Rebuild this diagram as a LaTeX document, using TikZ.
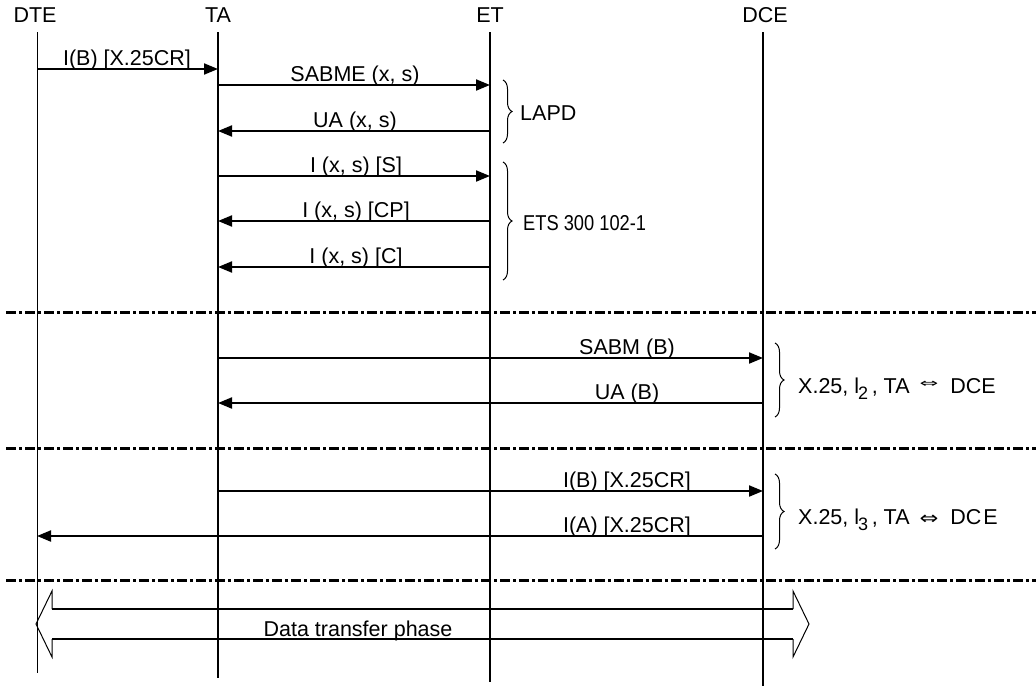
\documentclass[tikz,border=0pt]{standalone}
\usepackage{fontspec}
\setmainfont{Liberation Sans}
\newfontfamily\symfont{DejaVu Sans}
\usetikzlibrary{arrows.meta,decorations.pathreplacing}
\begin{document}
\begin{tikzpicture}[x=1pt,y=-1pt,
  every node/.style={font=\fontsize{21.5}{25}\selectfont, inner sep=0pt},
  life/.style={line width=2pt},
  thinlife/.style={line width=1pt},
  msg/.style={line width=2pt,-{Triangle[length=14pt,width=11pt]}},
  sep/.style={line width=3pt,dash pattern=on 10pt off 3pt on 3pt off 3pt},
  brc/.style={decorate,decoration={brace,amplitude=9pt},line width=1pt},
  lbl/.style={anchor=base},
  dbl/.style={line width=1pt},
  dblbody/.style={line width=2pt},
]
\useasboundingbox (0,0) rectangle (1036,686);

% headers
\node[anchor=base] (hDTE) at (35,22) {DTE};
\node[anchor=base] (hTA) at (218,22) {TA};
\node[anchor=base] (hET) at (490,22) {ET};
\node[anchor=base] (hDCE) at (765,22) {DCE};

% lifelines
\coordinate (DTEt) at (37,32); \coordinate (DTEb) at (37,673);
\coordinate (TAt) at (218,32); \coordinate (TAb) at (218,678);
\coordinate (ETt) at (490,32); \coordinate (ETb) at (490,682);
\coordinate (DCEt) at (763,32); \coordinate (DCEb) at (763,686);
\draw[thinlife] (DTEt) -- (DTEb);
\draw[life] (TAt) -- (TAb);
\draw[life] (ETt) -- (ETb);
\draw[life] (DCEt) -- (DCEb);

% messages
\coordinate (m1a) at (37,69);  \coordinate (m1b) at (218,69);
\coordinate (m2a) at (218,85); \coordinate (m2b) at (490,85);
\coordinate (m3a) at (490,131); \coordinate (m3b) at (218,131);
\coordinate (m4a) at (218,176); \coordinate (m4b) at (490,176);
\coordinate (m5a) at (490,221); \coordinate (m5b) at (218,221);
\coordinate (m6a) at (490,267); \coordinate (m6b) at (218,267);
\coordinate (m7a) at (218,358); \coordinate (m7b) at (763,358);
\coordinate (m8a) at (763,403); \coordinate (m8b) at (218,403);
\coordinate (m9a) at (218,491); \coordinate (m9b) at (763,491);
\coordinate (m10a) at (763,536); \coordinate (m10b) at (37,536);

\draw[msg] (m1a) -- (m1b);
\draw[msg] (m2a) -- (m2b);
\draw[msg] (m3a) -- (m3b);
\draw[msg] (m4a) -- (m4b);
\draw[msg] (m5a) -- (m5b);
\draw[msg] (m6a) -- (m6b);
\draw[msg] (m7a) -- (m7b);
\draw[msg] (m8a) -- (m8b);
\draw[msg] (m9a) -- (m9b);
\draw[msg] (m10a) -- (m10b);

\node[lbl] (l1) at (127,65) {I(B) [X.25CR]};
\node[lbl] (l2) at (355,81) {SABME (x, s)};
\node[lbl] (l3) at (355,127) {UA (x, s)};
\node[lbl] (l4) at (356,172) {I (x, s) [S]};
\node[lbl] (l5) at (356,217) {I (x, s) [CP]};
\node[lbl] (l6) at (356,263) {I (x, s) [C]};
\node[lbl] (l7) at (627,354) {SABM (B)};
\node[lbl] (l8) at (627,399) {UA (B)};
\node[lbl] (l9) at (627,487) {I(B) [X.25CR]};
\node[lbl] (l10) at (627,532) {I(A) [X.25CR]};

% braces
\coordinate (b1t) at (503,80); \coordinate (b1b) at (503,143);
\coordinate (b2t) at (503,162); \coordinate (b2b) at (503,280);
\coordinate (b3t) at (775,343); \coordinate (b3b) at (775,417);
\coordinate (b4t) at (775,474); \coordinate (b4b) at (775,549);
\draw[brc] (b1t) -- (b1b);
\draw[brc] (b2t) -- (b2b);
\draw[brc] (b3t) -- (b3b);
\draw[brc] (b4t) -- (b4b);
\node[anchor=base west] (t1) at (520,120) {LAPD};
\node[anchor=base west] (t2) at (523,230) {\scalebox{0.85}[1]{ETS 300 102-1}};
\node[anchor=base west] (t3) at (798,393) {X.25, l\kern-1pt\raisebox{-6pt}{\fontsize{18}{18}\selectfont 2}\,, TA\hspace{10pt}\raisebox{6pt}{\symfont\fontsize{16}{16}\selectfont\scalebox{1.4}[0.75]{⇔}}\hspace{12pt}DCE};
\node[anchor=base west] (t4) at (798,524) {X.25, l\kern-1pt\raisebox{-6pt}{\fontsize{18}{18}\selectfont 3}\,, TA\hspace{10pt}{\symfont\fontsize{18}{18}\selectfont\scalebox{1.25}[1]{⇔}}\hspace{12pt}DC\kern2pt E};

% separators
\coordinate (s1a) at (6,312); \coordinate (s1b) at (1036,312);
\coordinate (s2a) at (6,448); \coordinate (s2b) at (1036,448);
\coordinate (s3a) at (6,580); \coordinate (s3b) at (1036,580);
\draw[sep] (s1a) -- (s1b);
\draw[sep] (s2a) -- (s2b);
\draw[sep] (s3a) -- (s3b);

% data transfer phase double arrow
\coordinate (dL) at (36,624); \coordinate (dR) at (809,624);
\coordinate (dLt) at (52,609); \coordinate (dLb) at (52,639);
\coordinate (dRt) at (793,609); \coordinate (dRb) at (793,639);
\draw[dbl] (dLt) -- (52,591) -- (dL) -- (52,657) -- (dLb);
\draw[dbl] (dRt) -- (793,591) -- (dR) -- (793,657) -- (dRb);
\draw[dblbody] (dLt) -- (dRt);
\draw[dblbody] (dLb) -- (dRb);
\node[anchor=base] (dtp) at (358,636) {Data transfer phase};
\end{tikzpicture}
\end{document}
